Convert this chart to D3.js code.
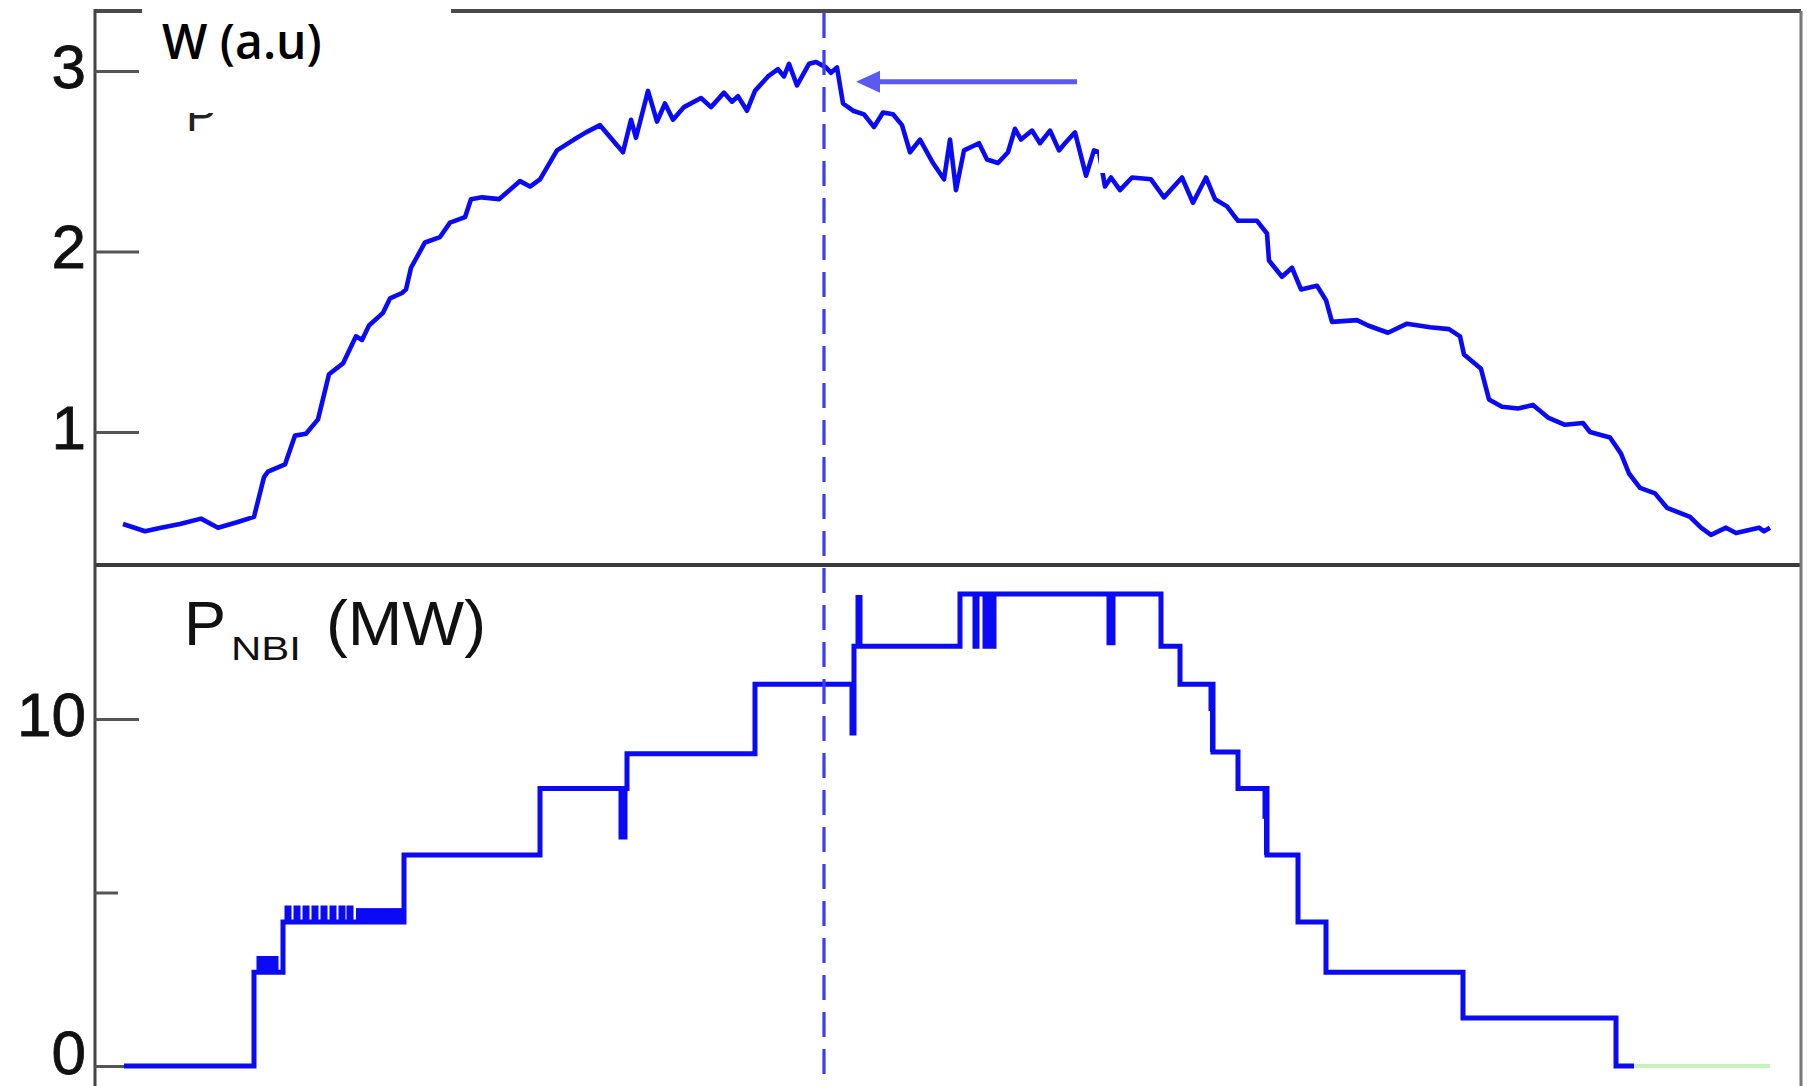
<!DOCTYPE html>
<html>
<head>
<meta charset="utf-8">
<script src="https://cdn.jsdelivr.net/npm/d3@7"></script>
<style>
  body { margin: 0; background: #fff; }
  svg { display: block; }
</style>
</head>
<body>
<div id="chart"></div>
<script>
// stored energy W (a.u.) against time (s)
const wTime = [0.26,0.48,0.64,0.83,1.04,1.21,1.40,1.57,1.67,1.71,
  1.88,1.98,2.09,2.21,2.32,2.46,2.59,2.65,2.72,2.86,
  2.93,3.05,3.09,3.14,3.28,3.43,3.53,3.68,3.74,3.85,
  4.02,4.23,4.33,4.43,4.60,4.77,4.89,5.03,5.26,5.34,
  5.39,5.51,5.60,5.68,5.76,5.87,6.04,6.14,6.27,6.35,
  6.41,6.50,6.58,6.71,6.81,6.87,6.92,7.00,7.12,7.19,
  7.29,7.34,7.40,7.46,7.56,7.67,7.77,7.86,7.96,8.05,
  8.13,8.23,8.36,8.47,8.53,8.59,8.67,8.82,8.90,9.01,
  9.11,9.18,9.24,9.35,9.43,9.53,9.62,9.68,9.78,9.89,
  9.97,10.02,10.08,10.14,10.23,10.35,10.54,10.67,10.85,10.96,
  11.09,11.18,11.30,11.41,11.60,11.70,11.72,11.85,11.95,12.04,
  12.20,12.29,12.35,12.60,12.71,12.91,13.10,13.33,13.52,13.63,
  13.67,13.84,13.92,14.05,14.21,14.36,14.51,14.68,14.86,14.93,
  15.13,15.24,15.32,15.43,15.58,15.70,15.93,16.04,16.14,16.29,
  16.39,16.62,16.67,16.73];
const wValue = [0.49,0.45,0.47,0.49,0.52,0.47,0.50,0.53,0.75,0.78,
  0.82,0.98,0.99,1.07,1.32,1.38,1.53,1.51,1.59,1.66,
  1.74,1.77,1.79,1.91,2.05,2.08,2.16,2.19,2.29,2.30,
  2.29,2.39,2.36,2.40,2.56,2.62,2.66,2.70,2.55,2.73,
  2.63,2.89,2.72,2.82,2.73,2.80,2.85,2.80,2.88,2.83,
  2.86,2.78,2.89,2.97,3.01,2.97,3.04,2.92,3.04,3.05,
  3.02,2.99,3.02,2.82,2.78,2.76,2.69,2.77,2.76,2.70,
  2.55,2.62,2.49,2.40,2.62,2.34,2.56,2.60,2.51,2.49,
  2.55,2.68,2.62,2.67,2.60,2.67,2.56,2.60,2.66,2.42,
  2.56,2.55,2.36,2.41,2.34,2.41,2.40,2.30,2.41,2.27,
  2.41,2.29,2.25,2.17,2.17,2.10,1.95,1.86,1.91,1.79,
  1.81,1.73,1.61,1.62,1.59,1.55,1.60,1.58,1.57,1.53,
  1.43,1.35,1.18,1.14,1.13,1.15,1.08,1.04,1.05,1.00,
  0.97,0.88,0.77,0.69,0.66,0.58,0.53,0.47,0.43,0.47,
  0.44,0.47,0.45,0.47];

// NBI power (MW), a step trace
const pTime = [0.27,1.57,1.62,1.65,1.69,1.72,1.76,1.79,1.86,1.90,
  1.92,1.99,2.01,2.08,2.10,2.17,2.19,2.26,2.28,2.35,
  2.37,2.44,2.46,2.52,2.54,3.07,4.43,5.24,5.28,5.30,
  6.58,7.55,7.57,7.61,7.63,8.63,8.78,8.80,8.88,8.91,
  8.94,8.97,10.12,10.16,10.64,10.83,11.14,11.15,
  11.16,11.41,11.68,11.69,11.70,12.01,12.29,13.66,15.19,15.37];
const pPower = [0,2.7,3.1,2.7,3.1,2.7,3.1,2.7,4.15,4.55,
  4.15,4.55,4.15,4.55,4.15,4.55,4.15,4.55,4.15,4.55,
  4.15,4.55,4.15,4.55,4.15,6.08,8.0,6.6,8.0,9.0,
  11.0,9.6,12.1,13.5,12.1,13.6,12.1,13.6,12.1,13.6,
  12.1,13.6,12.2,13.6,12.1,11.0,10.3,11.0,
  9.05,8.0,7.2,8.0,6.08,4.15,2.7,1.38,0,0];
// fast switching blocks: [t0, t1, low, high]
const pNoise = [[2.59, 3.07, 4.15, 4.55], [11.13, 11.17, 9.05, 10.35], [11.67, 11.71, 6.08, 7.2]];
// beams off (green tail)
const offTime = [15.37, 16.73];
const offPower = [0, 0];

const wTicks = [1, 2, 3];
const pTicks = [0, 10];
const pMinorTicks = [5];
const markerTime = 7.27;
const arrowFrom = 9.80, arrowTo = 7.59, arrowLevel = 2.94;

const w = 1807, h = 1086;
const svg = d3.select('#chart').append('svg')
  .attr('width', w)
  .attr('height', h);

const x = d3.scaleLinear().domain([0, 17.06]).range([97, 1803]);
const yW = d3.scaleLinear().domain([1, 3]).range([432, 71]);
const yP = d3.scaleLinear().domain([0, 10]).range([1066, 719]);

const axisX = x(0) - 2;
const topY = 11, midY = 565;
const blue = '#0a0af5';

// frame
svg.append('line').attr('x1', axisX).attr('x2', 1801).attr('y1', topY).attr('y2', topY)
  .attr('stroke', '#4a4a4a').attr('stroke-width', 4);
svg.append('line').attr('x1', axisX).attr('x2', 1801).attr('y1', midY).attr('y2', midY)
  .attr('stroke', '#3a3a3a').attr('stroke-width', 4);
svg.append('line').attr('x1', 1801).attr('x2', 1801).attr('y1', topY).attr('y2', h)
  .attr('stroke', '#777').attr('stroke-width', 3);
svg.append('line').attr('x1', axisX).attr('x2', axisX).attr('y1', topY - 2).attr('y2', h)
  .attr('stroke', '#444').attr('stroke-width', 3);

function styleAxis(g) {
  g.select('.domain').remove();
  g.selectAll('.tick line').attr('stroke', '#555').attr('stroke-width', 3);
  g.selectAll('.tick text')
    .attr('fill', '#111')
    .attr('stroke', '#111')
    .attr('stroke-width', 0.8)
    .attr('dy', d => d === 0 ? '0.12em' : '0.26em')
    .style('font-family', '"Liberation Sans", Arial, sans-serif')
    .style('font-size', '62px');
}

svg.append('g').attr('transform', `translate(${axisX},0)`)
  .call(d3.axisLeft(yW).tickValues(wTicks).tickSizeInner(-44).tickSizeOuter(0).tickPadding(9).tickFormat(d3.format('d')))
  .call(styleAxis);
svg.append('g').attr('transform', `translate(${axisX},0)`)
  .call(d3.axisLeft(yP).tickValues(pTicks).tickSizeInner(-44).tickSizeOuter(0).tickPadding(9).tickFormat(d3.format('d')))
  .call(styleAxis);
svg.append('g').attr('transform', `translate(${axisX},0)`)
  .call(d3.axisLeft(yP).tickValues(pMinorTicks).tickSizeInner(-23).tickSizeOuter(0).tickFormat(''))
  .call(styleAxis);

// remnant of an older label under the white patch
svg.append('text').attr('x', 186).attr('y', 131)
  .style('font-family', '"Liberation Sans", Arial, sans-serif').style('font-size', '46px')
  .attr('fill', '#222').text('P');

// W trace
const wData = d3.zip(wTime, wValue);
svg.append('path').datum(wData)
  .attr('fill', 'none').attr('stroke', blue).attr('stroke-width', 4.6)
  .attr('stroke-linejoin', 'round')
  .attr('d', d3.line().x(d => x(d[0])).y(d => yW(d[1])));

// P_NBI trace
const pData = d3.zip(pTime, pPower);
svg.append('path').datum(pData)
  .attr('fill', 'none').attr('stroke', blue).attr('stroke-width', 5)
  .attr('d', d3.line().curve(d3.curveStepAfter).x(d => x(d[0])).y(d => yP(d[1])));
svg.selectAll('rect.noise').data(pNoise).enter().append('rect')
  .attr('class', 'noise')
  .attr('x', d => x(d[0]))
  .attr('width', d => x(d[1]) - x(d[0]))
  .attr('y', d => yP(d[3]))
  .attr('height', d => yP(d[2]) - yP(d[3]))
  .attr('fill', blue);
svg.append('path').datum(d3.zip(offTime, offPower))
  .attr('fill', 'none').attr('stroke', '#c6f2bd').attr('stroke-width', 4)
  .attr('d', d3.line().x(d => x(d[0])).y(d => yP(d[1])));

// time marker
svg.append('line')
  .attr('x1', x(markerTime)).attr('x2', x(markerTime))
  .attr('y1', topY + 2).attr('y2', h)
  .attr('stroke', '#3c3cf0').attr('stroke-width', 3.2)
  .attr('stroke-dasharray', '25,12');

// arrow pointing at the W maximum
const ay = yW(arrowLevel);
svg.append('line')
  .attr('x1', x(arrowFrom)).attr('x2', x(arrowTo) + 18)
  .attr('y1', ay).attr('y2', ay)
  .attr('stroke', '#5a5af0').attr('stroke-width', 5);
svg.append('path')
  .attr('d', `M${x(arrowTo)},${ay} L${x(arrowTo) + 24},${ay - 11} L${x(arrowTo) + 24},${ay + 11} Z`)
  .attr('fill', '#5a5af0');

// white patches of the original picture
svg.append('rect').attr('x', 142).attr('y', 0).attr('width', 309).attr('height', 113).attr('fill', '#fff');
svg.append('rect').attr('x', 1099).attr('y', 16).attr('width', 380).attr('height', 157).attr('fill', '#fff');

// labels
svg.append('text').attr('x', 162).attr('y', 59)
  .style('font-family', '"Open Sans", sans-serif').style('font-size', '48px').style('font-weight', 600)
  .attr('fill', '#000').text('W (a.u)');

const labelFont = '"Liberation Sans", Arial, sans-serif';
svg.append('text').attr('x', 184).attr('y', 645)
  .style('font-family', labelFont).style('font-size', '63px').attr('fill', '#111').text('P');
svg.append('text').attr('x', 231).attr('y', 660)
  .attr('textLength', 70).attr('lengthAdjust', 'spacingAndGlyphs')
  .style('font-family', labelFont).style('font-size', '34px').attr('fill', '#111').text('NBI');
svg.append('text').attr('x', 326).attr('y', 645)
  .attr('textLength', 160).attr('lengthAdjust', 'spacingAndGlyphs')
  .style('font-family', labelFont).style('font-size', '63px').attr('fill', '#111').text('(MW)');
</script>
</body>
</html>
